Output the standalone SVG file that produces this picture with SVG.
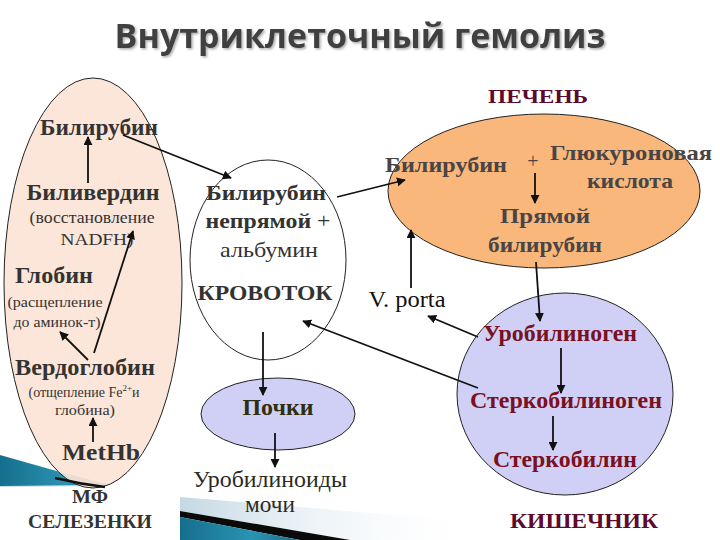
<svg xmlns="http://www.w3.org/2000/svg" width="720" height="540" viewBox="0 0 720 540">
<defs>
<style>
.t{font-family:"Liberation Serif","Times New Roman",serif;text-anchor:middle}
.b{font-weight:bold}
.dk{fill:#333}
.lv{fill:#4a4444}
.mr{fill:#7a1020}
.nd{stroke:#222;stroke-width:1}
.c line{stroke:#111;stroke-width:1.8;marker-end:url(#ah)}
</style>
<filter id="sh" x="-5%" y="-20%" width="110%" height="140%">
<feDropShadow dx="1.5" dy="1.5" stdDeviation="1" flood-color="#999" flood-opacity="0.8"/>
</filter>
<marker id="ah" viewBox="0 0 10 10" refX="9" refY="5" markerWidth="5" markerHeight="5" orient="auto" markerUnits="strokeWidth">
<path d="M0,0 L10,5 L0,10 z" fill="#111"/>
</marker>
<linearGradient id="teal" x1="0" y1="0" x2="1" y2="0">
<stop offset="0" stop-color="#156f8c"/>
<stop offset="0.6" stop-color="#2a93b3"/>
<stop offset="1" stop-color="#1a6f86"/>
</linearGradient>
<linearGradient id="light" x1="0" y1="0" x2="1" y2="0">
<stop offset="0" stop-color="#c4d8e3"/>
<stop offset="1" stop-color="#ffffff" stop-opacity="0"/>
</linearGradient>
</defs>
<rect width="720" height="540" fill="#fff"/>

<g id="title">
<text x="360" y="48" font-family="'Open Sans','Noto Sans',sans-serif" font-weight="bold" font-size="34" fill="#404040" text-anchor="middle" filter="url(#sh)">Внутриклеточный гемолиз</text>
</g>

<g id="decor">
<polygon points="0,460 110,484 145,487 0,487" fill="url(#light)"/>
<polygon points="0,455 60,472 110,485 0,486" fill="url(#teal)"/>
<polygon points="180,497 480,522 480,540 350,540 180,511" fill="url(#light)"/>
<polygon points="180,511 350,540 300,540 180,517" fill="#0a0a0a"/>
<polygon points="180,517 300,540 180,540" fill="url(#teal)"/>
</g>

<g id="spleen">
<ellipse cx="93" cy="283" rx="89" ry="205" fill="#fce4d6" fill-opacity="0.92" class="nd"/>
<path d="M55,478 Q80,484 105,487" stroke="#111" stroke-width="2.5" fill="none"/>
<text class="t b dk" x="99" y="135" font-size="23" textLength="118" lengthAdjust="spacingAndGlyphs">Билирубин</text>
<text class="t b dk" x="93" y="200" font-size="23" textLength="133" lengthAdjust="spacingAndGlyphs">Биливердин</text>
<text class="t dk" x="92" y="223" font-size="16" textLength="125" lengthAdjust="spacingAndGlyphs">(восстановление</text>
<text class="t dk" x="97" y="245" font-size="16" textLength="73" lengthAdjust="spacingAndGlyphs">NADFH)</text>
<text class="t b dk" x="54" y="283" font-size="23" textLength="78" lengthAdjust="spacingAndGlyphs">Глобин</text>
<text class="t dk" x="55" y="307" font-size="15" textLength="95" lengthAdjust="spacingAndGlyphs">(расщепление</text>
<text class="t dk" x="57" y="327" font-size="15" textLength="87" lengthAdjust="spacingAndGlyphs">до аминок-т)</text>
<text class="t b dk" x="85" y="375" font-size="23" textLength="140" lengthAdjust="spacingAndGlyphs">Вердоглобин</text>
<text class="t dk" x="84" y="397" font-size="14">(отщепление Fe<tspan font-size="9" dy="-6">2+</tspan><tspan dy="6">и</tspan></text>
<text class="t dk" x="85" y="415" font-size="15" textLength="60" lengthAdjust="spacingAndGlyphs">глобина)</text>
<text class="t b dk" x="101" y="460" font-size="23" textLength="78" lengthAdjust="spacingAndGlyphs">MetHb</text>
<text class="t b dk" x="90" y="503" font-size="19" textLength="36" lengthAdjust="spacingAndGlyphs">МФ</text>
<text class="t b dk" x="90" y="528" font-size="19" textLength="124" lengthAdjust="spacingAndGlyphs">СЕЛЕЗЕНКИ</text>
</g>

<g id="blood">
<ellipse cx="268" cy="260" rx="78" ry="100" fill="#fff" class="nd"/>
<text class="t b dk" x="266" y="200" font-size="22" textLength="120" lengthAdjust="spacingAndGlyphs">Билирубин</text>
<text class="t dk" x="268" y="228" font-size="22" textLength="125" lengthAdjust="spacingAndGlyphs"><tspan font-weight="bold">непрямой</tspan> +</text>
<text class="t dk" x="269" y="257" font-size="22" textLength="98" lengthAdjust="spacingAndGlyphs">альбумин</text>
<text class="t b dk" x="265" y="300" font-size="22" textLength="135" lengthAdjust="spacingAndGlyphs">КРОВОТОК</text>
</g>

<g id="liver">
<text class="t b" x="538" y="103" font-size="19" fill="#5c0a2e" textLength="100" lengthAdjust="spacingAndGlyphs">ПЕЧЕНЬ</text>
<ellipse cx="544" cy="191" rx="156" ry="77" fill="#f9b77c" class="nd"/>
<text class="t b lv" x="446" y="172" font-size="22" textLength="122" lengthAdjust="spacingAndGlyphs">Билирубин</text>
<text class="t lv" x="533" y="168" font-size="20">+</text>
<text class="t b lv" x="631" y="160" font-size="22" textLength="162" lengthAdjust="spacingAndGlyphs">Глюкуроновая</text>
<text class="t b lv" x="630" y="188" font-size="22" textLength="86" lengthAdjust="spacingAndGlyphs">кислота</text>
<text class="t b lv" x="545" y="223" font-size="22" textLength="90" lengthAdjust="spacingAndGlyphs">Прямой</text>
<text class="t b lv" x="545" y="252" font-size="22" textLength="114" lengthAdjust="spacingAndGlyphs">билирубин</text>
</g>

<g id="vporta">
<text class="t" x="407" y="307" font-size="24" fill="#111" textLength="77" lengthAdjust="spacingAndGlyphs">V. porta</text>
</g>

<g id="intestine">
<ellipse cx="565" cy="394" rx="108" ry="101" fill="#d0d0f7" class="nd"/>
<text class="t b mr" x="560" y="341" font-size="23" textLength="154" lengthAdjust="spacingAndGlyphs">Уробилиноген</text>
<text class="t b mr" x="566" y="408" font-size="23" textLength="192" lengthAdjust="spacingAndGlyphs">Стеркобилиноген</text>
<text class="t b mr" x="565" y="467" font-size="23" textLength="144" lengthAdjust="spacingAndGlyphs">Стеркобилин</text>
<text class="t b" x="584" y="528" font-size="21" fill="#5c0a2e" textLength="148" lengthAdjust="spacingAndGlyphs">КИШЕЧНИК</text>
</g>

<g id="kidney">
<ellipse cx="278" cy="414" rx="77" ry="36" fill="#d0d0f7" class="nd"/>
<text class="t b" x="278" y="415" font-size="23" fill="#2e2e10" textLength="71" lengthAdjust="spacingAndGlyphs">Почки</text>
<text class="t" x="270" y="487" font-size="23" fill="#2b2b1f" textLength="154" lengthAdjust="spacingAndGlyphs">Уробилиноиды</text>
<text class="t" x="270" y="512" font-size="23" fill="#2b2b1f" textLength="50" lengthAdjust="spacingAndGlyphs">мочи</text>
</g>

<g id="connectors" class="c">
<line x1="88" y1="183" x2="88" y2="137"/>
<line x1="94" y1="353" x2="133" y2="231"/>
<line x1="88" y1="360" x2="60" y2="332"/>
<line x1="93" y1="442" x2="93" y2="418"/>
<line x1="123" y1="135" x2="231" y2="178"/>
<line x1="337" y1="197" x2="405" y2="180"/>
<line x1="411" y1="288" x2="411" y2="230"/>
<line x1="535" y1="173" x2="535" y2="203"/>
<line x1="536" y1="262" x2="540" y2="321"/>
<line x1="478" y1="337" x2="428" y2="316"/>
<line x1="478" y1="388" x2="303" y2="321"/>
<line x1="561" y1="348" x2="561" y2="393"/>
<line x1="553" y1="416" x2="553" y2="450"/>
<line x1="263" y1="332" x2="263" y2="395"/>
<line x1="275" y1="433" x2="275" y2="467"/>
</g>
</svg>
